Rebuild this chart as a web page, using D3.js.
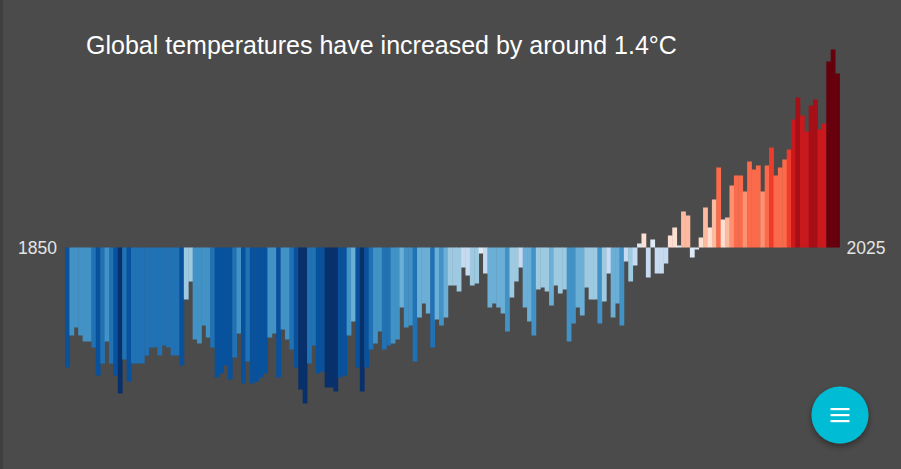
<!DOCTYPE html>
<html>
<head>
<meta charset="utf-8">
<script src="https://cdn.jsdelivr.net/npm/d3@7"></script>
<style>
  html, body { margin: 0; padding: 0; background: #4b4b4b; overflow: hidden; }
  svg { display: block; }
</style>
</head>
<body>
<svg id="chart" width="901" height="469"></svg>
<script>
// ---- data (annual global temperature anomaly, °C) ----
const firstYear = 1850;
const lastYear = 2025;
const anomaly = [
  -0.60,-0.44,-0.40,-0.44,-0.47,-0.47,-0.50,-0.64,-0.58,-0.47,
  -0.58,-0.64,-0.73,-0.56,-0.67,-0.58,-0.58,-0.58,-0.54,-0.50,
  -0.50,-0.54,-0.49,-0.50,-0.54,-0.54,-0.59,-0.26,-0.17,-0.46,
  -0.48,-0.39,-0.45,-0.50,-0.65,-0.63,-0.59,-0.66,-0.55,-0.43,
  -0.68,-0.57,-0.68,-0.67,-0.65,-0.63,-0.45,-0.43,-0.65,-0.41,
  -0.46,-0.51,-0.60,-0.71,-0.78,-0.58,-0.49,-0.63,-0.62,-0.70,
  -0.70,-0.72,-0.65,-0.64,-0.44,-0.37,-0.60,-0.72,-0.60,-0.51,
  -0.48,-0.42,-0.51,-0.49,-0.48,-0.46,-0.30,-0.40,-0.39,-0.57,
  -0.35,-0.28,-0.33,-0.50,-0.36,-0.39,-0.35,-0.19,-0.19,-0.22,
  -0.10,-0.14,-0.19,-0.18,-0.03,-0.13,-0.30,-0.28,-0.30,-0.33,
  -0.42,-0.25,-0.17,-0.10,-0.30,-0.37,-0.44,-0.21,-0.20,-0.22,
  -0.29,-0.19,-0.23,-0.21,-0.47,-0.38,-0.30,-0.34,-0.20,-0.26,
  -0.26,-0.38,-0.27,-0.13,-0.35,-0.28,-0.39,-0.07,-0.17,-0.09,
   0.02, 0.07,-0.15, 0.04,-0.13,-0.13,-0.08, 0.06, 0.10, 0.01,
   0.18, 0.16,-0.05,-0.01, 0.05, 0.20, 0.10, 0.24, 0.40, 0.14,
   0.15, 0.31, 0.36, 0.36, 0.28, 0.43, 0.39, 0.41, 0.28, 0.41,
   0.50, 0.36, 0.40, 0.44, 0.49, 0.64, 0.75, 0.66, 0.58, 0.71,
   0.74, 0.59, 0.62, 0.93, 0.99, 0.87
];
const years = d3.range(firstYear, lastYear + 1);
const titleText = "Global temperatures have increased by around 1.4°C";
const startLabel = "1850";
const endLabel = "2025";

// stripe palette (blues -> reds)
const palette = [
  "#08306b","#08519c","#2171b5","#4292c6","#6baed6","#9ecae1","#c6dbef","#deebf7",
  "#fee0d2","#fcbba1","#fc9272","#fb6a4a","#ef3b2c","#cb181d","#a50f15","#67000d"
];
const colourCentre = 0.045, colourStep = 0.105;

// ---- layout ----
const W = 901, H = 469;
const FONT = "'Liberation Sans', Arial, sans-serif";
const svg = d3.select("#chart");

svg.append("rect").attr("width", W).attr("height", H).attr("fill", "#4b4b4b");
svg.append("rect").attr("x", 0).attr("y", 0).attr("width", 3).attr("height", H).attr("fill", "#3f3f3f");

const x = d3.scaleBand().domain(years).range([65, 839.5]).padding(0);
const y = d3.scaleLinear().domain([-1, 1]).range([447.5, 47.5]);
const colour = d3.scaleThreshold()
  .domain(d3.range(-7, 8).map(k => colourCentre + k * colourStep))
  .range(palette);

const data = years.map((yr, i) => ({ year: yr, value: anomaly[i] }));

svg.append("g").selectAll("rect").data(data).join("rect")
  .attr("x", d => x(d.year))
  .attr("width", x.bandwidth() + 0.4)
  .attr("y", d => Math.min(y(d.value), y(0)))
  .attr("height", d => Math.abs(y(d.value) - y(0)))
  .attr("fill", d => colour(d.value));

// title
svg.append("text")
  .attr("x", 86).attr("y", 54)
  .attr("fill", "#ffffff")
  .style("font-family", FONT)
  .style("font-size", "25px")
  .text(titleText);

// year labels
svg.append("text")
  .attr("x", x(firstYear) - 8).attr("y", y(0))
  .attr("text-anchor", "end").attr("dominant-baseline", "central")
  .attr("fill", "#e4e4e4")
  .style("font-family", FONT)
  .style("font-size", "17.5px")
  .text(startLabel);
svg.append("text")
  .attr("x", x(lastYear) + x.bandwidth() + 7).attr("y", y(0))
  .attr("text-anchor", "start").attr("dominant-baseline", "central")
  .attr("fill", "#e4e4e4")
  .style("font-family", FONT)
  .style("font-size", "17.5px")
  .text(endLabel);

// floating menu button
const defs = svg.append("defs");
const f = defs.append("filter").attr("id", "shadow").attr("x", "-50%").attr("y", "-50%").attr("width", "200%").attr("height", "200%");
f.append("feDropShadow").attr("dx", 0).attr("dy", 3).attr("stdDeviation", 3).attr("flood-color", "#000").attr("flood-opacity", 0.4);

const btn = svg.append("g").attr("transform", "translate(840,415)");
btn.append("circle").attr("r", 28.5).attr("fill", "#00bcd4").attr("filter", "url(#shadow)");
[-6, 0, 6].forEach(dy => {
  btn.append("rect").attr("x", -9.5).attr("y", dy - 1).attr("width", 19).attr("height", 2.2).attr("fill", "#ffffff");
});
</script>
</body>
</html>
